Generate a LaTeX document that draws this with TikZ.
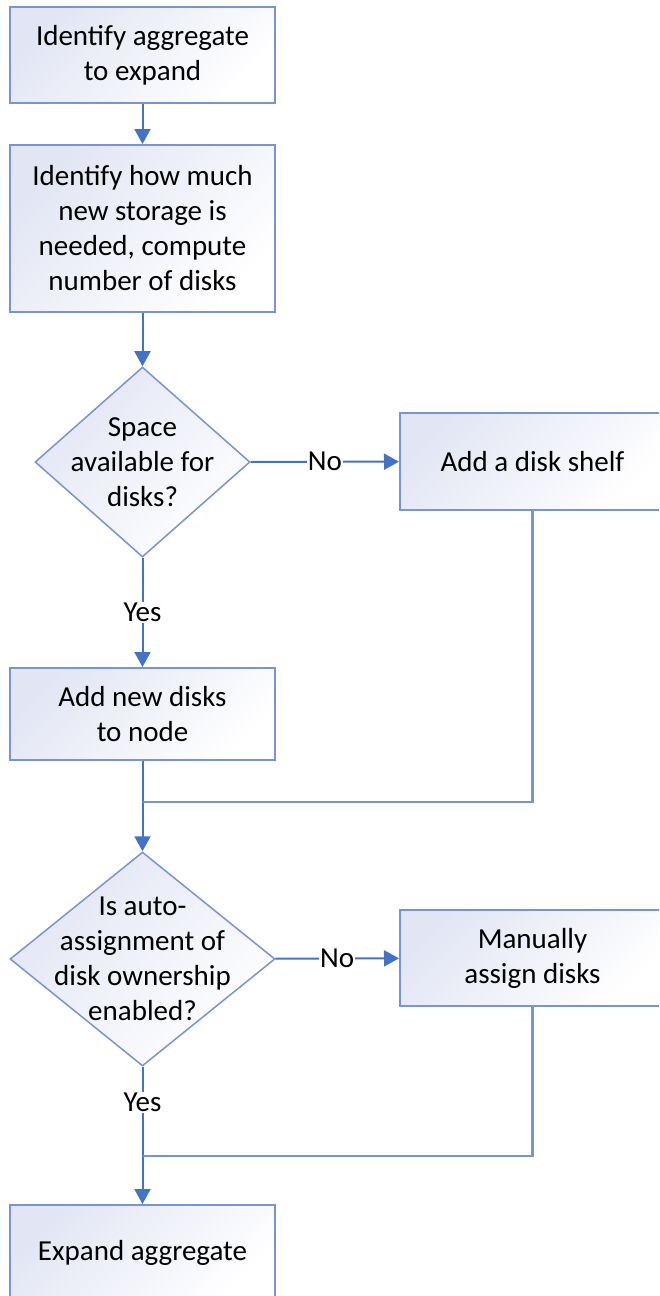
\documentclass[tikz,border=0pt]{standalone}
\usepackage{fontspec}
\setmainfont{Carlito}
\usepackage{tikz}
\usetikzlibrary{positioning,shapes.geometric,arrows.meta}
\definecolor{flowline}{RGB}{68,114,196}
\definecolor{flowedge}{RGB}{120,148,210}
\definecolor{flowtint}{RGB}{226,229,244}

\begin{document}
\begin{tikzpicture}[x=1pt, y=1pt, font=\fontsize{29}{35}\selectfont,
    box/.style = {rectangle, draw=flowedge, line width=2pt, top color=flowtint, bottom color=white, shading angle=45, minimum width=265pt, align=center, inner sep=0pt},
    decide/.style = {diamond, draw=flowedge, line width=1.5pt, top color=flowtint, bottom color=white, shading angle=45, inner sep=0pt},
    inside/.style = {align=center, inner sep=0pt},
    flow/.style = {draw=flowline, line width=2pt, -{Triangle[width=16pt,length=15pt]}},
    feed/.style = {draw=flowedge, line width=2.5pt},
    lbl/.style = {fill=white, inner sep=1pt}]
    \useasboundingbox (0,0) rectangle (659,-1296);
    \begin{scope}
    \clip (0,0) rectangle (659,-1296);
    \node[box, minimum height=96pt] (aggr) at (142.5,-55) {Identify aggregate\\to expand};
    \node[box, minimum height=167pt] (need) at (142.5,-228.5) {Identify how much\\new storage is\\needed, compute\\number of disks};
    \node[decide, minimum width=215pt, minimum height=190pt,
          label={[inside]center:Space\\available for\\disks?}] (space) at (142.5,-462) {};
    \node[box, minimum height=97pt] (shelf) at (532.5,-461.5) {Add a disk shelf};
    \node[box, minimum height=92pt] (newdisks) at (142.5,-714) {Add new disks\\to node};
    \node[decide, minimum width=265pt, minimum height=214pt,
          label={[inside]center:Is auto-\\assignment of\\disk ownership\\enabled?}] (auto) at (142.5,-959) {};
    \node[box, minimum height=96pt] (manual) at (532.5,-958) {Manually\\assign disks};
    \node[box, minimum height=96pt] (expand) at (142.5,-1253) {Expand aggregate};
    \coordinate (merge1) at (142.5,-802);
    \coordinate (merge2) at (142.5,-1156);
    \end{scope}
    \path[flow] (aggr) -- (need);
    \path[flow] (need) -- (space);
    \path[flow] (space) -- node[lbl] {Yes} (newdisks);
    \path[flow] (space) -- node[lbl] {No} (shelf);
    \path[flow] (newdisks) -- (auto);
    \path[feed] (shelf.south) |- (merge1);
    \path[flow] (auto) -- node[lbl, pos=0.26] {Yes} (expand);
    \path[flow] (auto) -- node[lbl] {No} (manual);
    \path[feed] (manual.south) |- (merge2);
\end{tikzpicture}
\end{document}
